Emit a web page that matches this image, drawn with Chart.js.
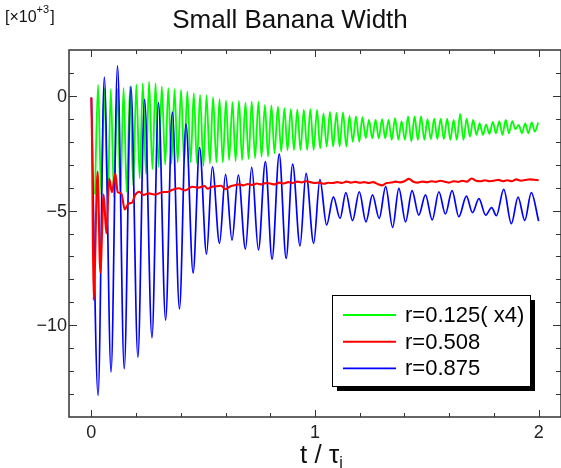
<!DOCTYPE html>
<html>
<head>
<meta charset="utf-8">
<script src="https://cdn.jsdelivr.net/npm/chart.js@4.4.1/dist/chart.umd.min.js"></script>
<style>
  html, body { margin: 0; padding: 0; background: #fff; }
  #wrap { width: 561px; height: 468px; position: relative; }
</style>
</head>
<body>
<div id="wrap"><canvas id="chart"></canvas></div>
<script>
// values (t / tau_i, value x10^3)
const blueT = [0, 0.030, 0.058, 0.088, 0.117, 0.147, 0.177, 0.208, 0.238, 0.271, 0.300, 0.332, 0.362, 0.394, 0.423, 0.455, 0.484, 0.515, 0.541, 0.573, 0.600, 0.629, 0.657, 0.689, 0.717, 0.747, 0.778, 0.808, 0.840, 0.871, 0.900, 0.933, 0.960, 0.994, 1.022, 1.052, 1.082, 1.112, 1.138, 1.168, 1.198, 1.228, 1.257, 1.287, 1.316, 1.347, 1.375, 1.405, 1.434, 1.464, 1.494, 1.524, 1.554, 1.583, 1.613, 1.643, 1.677, 1.704, 1.733, 1.763, 1.790, 1.811, 1.844, 1.878, 1.908, 1.938, 1.967, 2.0];
const blueV = [-0.07, -13.06, 0.82, -12.04, 1.31, -11.9, 0.41, -11.4, -0.15, -10.55, -0.29, -9.78, -0.71, -9.29, -1.22, -7.72, -2.25, -6.9, -3.09, -6.43, -3.42, -6.29, -3.45, -6.68, -3.11, -6.72, -2.87, -7.12, -2.54, -7.09, -2.97, -6.54, -3.38, -6.43, -3.65, -5.63, -4.40, -5.34, -4.22, -5.44, -4.18, -5.49, -4.32, -5.34, -3.96, -5.73, -4.03, -5.49, -4.13, -5.2, -4.32, -5.41, -4.18, -5.15, -4.13, -5.27, -4.37, -5.09, -4.48, -5.2, -4.87, -5.22, -4.08, -5.57, -4.41, -5.43, -4.22, -5.46];

const redT = [0, 0.003, 0.010, 0.028, 0.040, 0.055, 0.067, 0.080, 0.092, 0.107, 0.118, 0.134, 0.149, 0.167, 0.182, 0.196, 0.214, 0.233, 0.256, 0.286, 0.315, 0.345, 0.36, 0.39, 0.42, 0.45, 0.48, 0.506,
  0.52, 0.54, 0.56, 0.58, 0.60, 0.62, 0.64, 0.66, 0.68, 0.70, 0.72, 0.74, 0.76, 0.78, 0.80, 0.82, 0.84, 0.86, 0.88, 0.90, 0.92, 0.94, 0.96, 0.98,
  1.00, 1.02, 1.04, 1.06, 1.08, 1.10, 1.12, 1.14, 1.16, 1.18, 1.20, 1.22, 1.24, 1.26, 1.28, 1.30, 1.32, 1.34, 1.36, 1.38, 1.40, 1.42, 1.44, 1.46, 1.48,
  1.50, 1.52, 1.54, 1.56, 1.58, 1.60, 1.62, 1.64, 1.66, 1.68, 1.70, 1.72, 1.74, 1.76, 1.78, 1.80, 1.82, 1.84, 1.86, 1.88, 1.90, 1.92, 1.94, 1.96, 1.98, 2.00];
const redV = [-0.07, -1.9, -8.9, -3.3, -7.7, -4.3, -6.0, -3.6, -4.2, -3.38, -4.2, -4.25, -4.95, -4.69, -4.65, -4.32, -4.18, -4.32, -4.25, -4.3, -4.2, -4.18, -4.1, -4.03, -4.12, -3.96, -4.0, -3.93,
  -4.05, -3.96, -3.94, -3.92, -4.07, -3.95, -3.9, -3.86, -3.9, -3.84, -3.88, -3.82, -3.86, -3.8, -3.82, -3.86, -3.78, -3.82, -3.76, -3.8, -3.74, -3.77, -3.72, -3.76,
  -3.8, -3.78, -3.83, -3.79, -3.8, -3.76, -3.8, -3.74, -3.78, -3.75, -3.79, -3.76, -3.8, -3.76, -3.84, -3.9, -3.8, -3.78, -3.74, -3.77, -3.72, -3.62, -3.74, -3.78, -3.74,
  -3.76, -3.72, -3.75, -3.7, -3.74, -3.78, -3.72, -3.75, -3.7, -3.74, -3.6, -3.7, -3.72, -3.68, -3.72, -3.7, -3.66, -3.72, -3.68, -3.72, -3.64, -3.7, -3.67, -3.64, -3.66, -3.68];

const greenT = [0.016, 0.030, 0.044, 0.058, 0.073, 0.087, 0.101, 0.116, 0.130, 0.144, 0.158, 0.173, 0.187, 0.201, 0.216, 0.230, 0.244, 0.258, 0.273, 0.287, 0.301, 0.315, 0.330, 0.344, 0.358, 0.372, 0.386, 0.401, 0.415, 0.429, 0.444, 0.458, 0.472, 0.486, 0.501,
  0.515, 0.530, 0.544, 0.559, 0.573, 0.588, 0.602, 0.616, 0.631, 0.645, 0.660, 0.674, 0.689, 0.703, 0.717, 0.732, 0.747, 0.761, 0.776, 0.790, 0.805, 0.819, 0.834, 0.849, 0.863, 0.877, 0.892, 0.906, 0.921, 0.935, 0.950, 0.965, 0.979, 0.994,
  1.009, 1.023, 1.038, 1.052, 1.067, 1.081, 1.096, 1.110, 1.125, 1.140, 1.154, 1.169, 1.183, 1.198, 1.212, 1.227, 1.241, 1.256, 1.271, 1.285, 1.300, 1.314, 1.329, 1.343, 1.358, 1.373, 1.387, 1.402, 1.416, 1.431, 1.445, 1.460, 1.474, 1.489,
  1.503, 1.518, 1.533, 1.547, 1.562, 1.576, 1.591, 1.605, 1.620, 1.634, 1.649, 1.664, 1.678, 1.693, 1.707, 1.722, 1.736, 1.751, 1.765, 1.780, 1.795, 1.809, 1.824, 1.838, 1.853, 1.867, 1.882, 1.896, 1.911, 1.925, 1.940, 1.954, 1.969, 1.983, 1.998];
const greenV = [-4.3, 0.48, -4.3, 0.35, -4.5, 0.29, -4.4, 0.3, -4.3, 0.35, -4.2, 0.41, -3.9, 0.5, -3.6, 0.55, -3.4, 0.62, -3.2, 0.55, -3.1, 0.41, -3.0, 0.34, -2.95, 0.29, -2.9, 0.26, -2.9, 0.19, -2.9, 0.12, -2.95, 0.04, -3.05,
  0.02, -2.95, -0.06, -2.9, -0.14, -2.9, -0.2, -2.8, -0.27, -2.85, -0.22, -2.8, -0.3, -2.75, -0.25, -2.72, -0.25, -2.65, -0.39, -2.65, -0.42, -2.5, -0.47, -2.43, -0.54, -2.36, -0.58, -2.36, -0.6, -2.36, -0.61, -2.36, -0.58, -2.36,
  -0.61, -2.29, -0.76, -2.21, -0.7, -2.21, -0.74, -2.21, -0.72, -2.21, -0.87, -2.0, -0.9, -2.0, -0.93, -1.85, -1.05, -1.85, -1.05, -1.85, -1.02, -1.85, -1.05, -1.92, -0.97, -1.92, -1.1, -1.92, -0.9, -1.99, -0.9, -1.92, -0.9, -1.92,
  -1.02, -1.89, -0.99, -1.88, -0.99, -1.89, -0.99, -1.92, -1.05, -1.92, -0.79, -1.92, -0.99, -1.78, -1.05, -1.70, -1.19, -1.70, -1.25, -1.66, -1.14, -1.63, -1.1, -1.70, -1.05, -1.63, -1.1, -1.45, -1.27, -1.63, -1.2, -1.63, -1.16, -1.56, -1.16];

const legendLabels = ['r=0.125( x4)', 'r=0.508', 'r=0.875'];
const xTicks = [0, 1, 2];
const yTicks = [0, -5, -10];
const yTickLabels = ['0', '\u22125', '\u221210'];

const toPts = (t, v) => t.map((x, i) => ({ x: x, y: v[i] }));

// frame, inward ticks, labels, legend box
const decor = {
  id: 'decor',
  afterDraw(chart) {
    const { ctx, chartArea: a, scales: { x, y } } = chart;
    ctx.save();
    ctx.strokeStyle = '#333';
    ctx.lineWidth = 1.5;
    ctx.strokeRect(a.left, a.top, a.right - a.left, a.bottom - a.top);

    ctx.lineWidth = 1;
    ctx.beginPath();
    for (let k = 0; k <= 10; k++) {
      const v = k * 0.2;
      const px = Math.round(x.getPixelForValue(v)) + 0.5;
      const len = (k % 5 === 0) ? 7 : 4;
      ctx.moveTo(px, a.bottom); ctx.lineTo(px, a.bottom - len);
      ctx.moveTo(px, a.top); ctx.lineTo(px, a.top + len);
    }
    for (let v = -13; v <= 1; v++) {
      const py = Math.round(y.getPixelForValue(v)) + 0.5;
      const len = (v % 5 === 0) ? 8 : 5;
      ctx.moveTo(a.left, py); ctx.lineTo(a.left + len, py);
      ctx.moveTo(a.right, py); ctx.lineTo(a.right - len, py);
    }
    ctx.stroke();

    ctx.fillStyle = '#222';
    ctx.font = '18px "Liberation Sans", Arial, sans-serif';
    ctx.textAlign = 'right';
    ctx.textBaseline = 'middle';
    yTicks.forEach((v, i) => ctx.fillText(yTickLabels[i], a.left - 2, y.getPixelForValue(v) + 1));
    ctx.textAlign = 'center';
    ctx.textBaseline = 'alphabetic';
    xTicks.forEach(v => ctx.fillText(String(v), x.getPixelForValue(v), 438));

    // title
    ctx.fillStyle = '#111';
    ctx.font = '26px "Liberation Sans", Arial, sans-serif';
    ctx.fillText('Small Banana Width', 290, 28);

    // axis unit label
    ctx.textAlign = 'left';
    ctx.font = '16px "Liberation Sans", Arial, sans-serif';
    ctx.fillText('[\u00d710', 5, 22);
    let w = ctx.measureText('[\u00d710').width;
    ctx.font = '11px "Liberation Sans", Arial, sans-serif';
    ctx.fillText('+3', 5 + w, 13);
    w += ctx.measureText('+3').width;
    ctx.font = '16px "Liberation Sans", Arial, sans-serif';
    ctx.fillText(']', 5 + w + 1, 22);

    // x title
    ctx.font = '26px "Liberation Sans", Arial, sans-serif';
    ctx.fillText('t / \u03c4', 300, 463);
    const tw = ctx.measureText('t / \u03c4').width;
    ctx.font = '16px "Liberation Sans", Arial, sans-serif';
    ctx.fillText('i', 300 + tw, 468);

    // legend
    const bx = 332, by = 295, bw = 198, bh = 91;
    ctx.fillStyle = '#000';
    ctx.fillRect(bx + 5, by + 5, bw, bh);
    ctx.fillStyle = '#fff';
    ctx.fillRect(bx, by, bw, bh);
    ctx.strokeStyle = '#000';
    ctx.lineWidth = 1;
    ctx.strokeRect(bx + 0.5, by + 0.5, bw, bh);
    const ds = chart.data.datasets;
    ctx.font = '22px "Liberation Sans", Arial, sans-serif';
    ctx.textBaseline = 'middle';
    legendLabels.forEach((lab, i) => {
      const ly = by + 20 + i * 26.7;
      ctx.strokeStyle = ds[i].borderColor;
      ctx.lineWidth = ds[i].borderWidth;
      ctx.beginPath();
      ctx.moveTo(bx + 11, ly); ctx.lineTo(bx + 64, ly);
      ctx.stroke();
      ctx.fillStyle = '#000';
      ctx.fillText(lab, bx + 73, ly + 1);
    });
    ctx.restore();
  }
};

new Chart(document.getElementById('chart'), {
  type: 'line',
  data: {
    datasets: [
      { label: legendLabels[0], data: toPts(greenT, greenV), borderColor: '#00ff00', borderWidth: 1.8, order: 2 },
      { label: legendLabels[1], data: toPts(redT, redV), borderColor: '#ff0000', borderWidth: 2.1, order: 0 },
      { label: legendLabels[2], data: toPts(blueT, blueV), borderColor: '#0000ff', borderWidth: 1.7, order: 1 }
    ]
  },
  options: {
    responsive: true,
    maintainAspectRatio: false,
    animation: false,
    layout: { padding: { left: 69, right: 0, top: 50, bottom: 51 } },
    elements: { point: { radius: 0 }, line: { cubicInterpolationMode: 'monotone' } },
    plugins: { legend: { display: false }, tooltip: { enabled: false }, title: { display: false } },
    scales: {
      x: { type: 'linear', min: -0.1, max: 2.1, display: false },
      y: { type: 'linear', min: -14, max: 2, display: false }
    }
  },
  plugins: [decor]
});
</script>
</body>
</html>
